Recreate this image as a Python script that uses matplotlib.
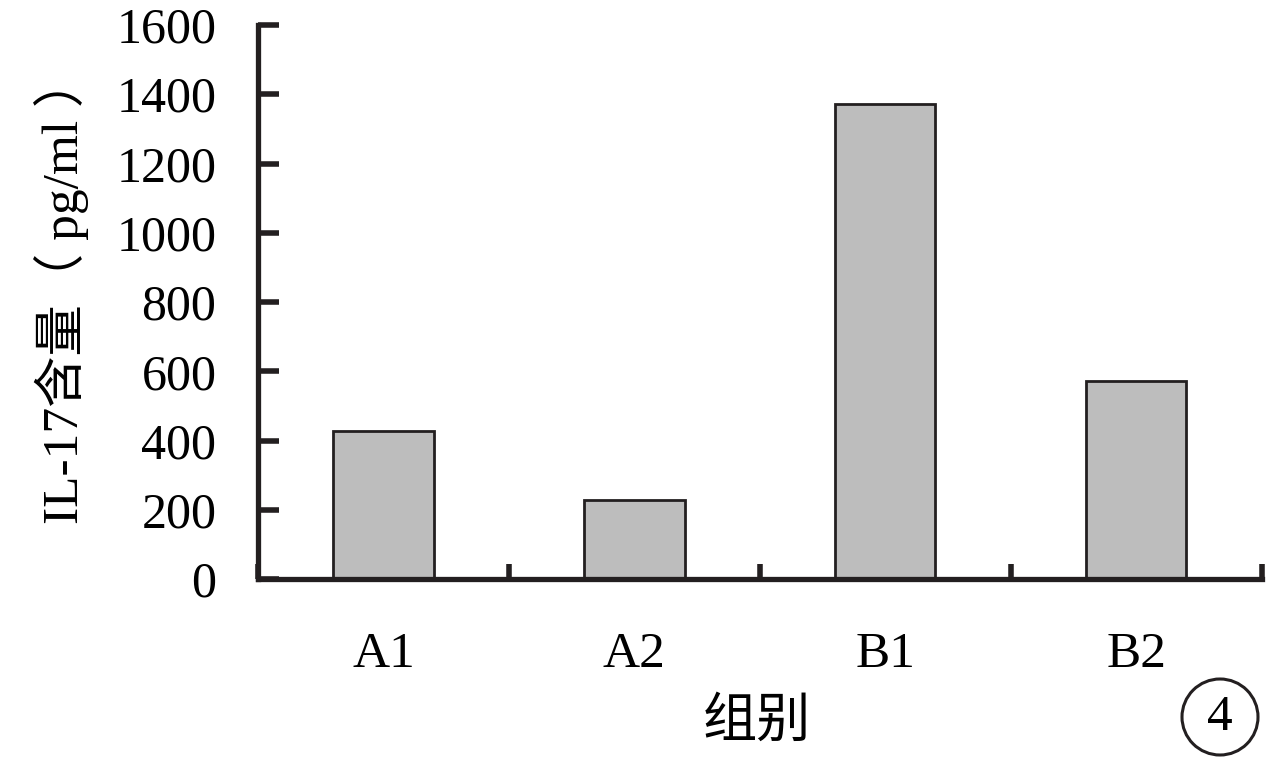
import matplotlib
matplotlib.use("Agg")
import matplotlib.pyplot as plt
from matplotlib.patches import Ellipse

plt.rcParams['font.family'] = ['Liberation Serif', 'Noto Sans CJK SC']

# data
groups = ['A1', 'A2', 'B1', 'B2']
il17 = [428, 228, 1372, 572]
y_ticks = [0, 200, 400, 600, 800, 1000, 1200, 1400, 1600]

fig = plt.figure(figsize=(12.8, 7.57), dpi=100)
ax = fig.add_axes([0.2016, 0.235, 0.784, 0.732])

x = range(len(groups))
ax.bar(x, il17, width=0.40, color='#bdbdbd', edgecolor='#231f20', linewidth=2.0, zorder=2)

ax.set_xlim(-0.5, len(groups) - 0.5)
ax.set_ylim(0, 1600)
ax.set_yticks(y_ticks)
ax.set_yticklabels([str(v) for v in y_ticks], fontsize=36)

# category labels centred, tick marks at category boundaries
ax.set_xticks(list(x))
ax.set_xticklabels(groups, fontsize=37)
ax.tick_params(axis='x', length=0, pad=38)
ax.set_xticks([i + 0.5 for i in range(-1, len(groups))], minor=True)
ax.tick_params(axis='x', which='minor', direction='in', length=11, width=4, color='#231f20')
ax.tick_params(axis='y', direction='in', length=15, width=4, color='#231f20', pad=30)

for side in ['top', 'right']:
    ax.spines[side].set_visible(False)
for side in ['left', 'bottom']:
    ax.spines[side].set_linewidth(3.8)
    ax.spines[side].set_color('#231f20')

fig.text(62 / 1280, 1 - 290 / 757, 'IL-17含量（ pg/ml ）', fontsize=37,
         rotation=90, ha='center', va='center', rotation_mode='anchor')
fig.text(757 / 1280, 1 - 724 / 757, '组别', fontsize=39, ha='center', va='center')

# circled panel number
fig.add_artist(Ellipse((1220 / 1280, 1 - 717 / 757), 76 / 1280, 76 / 757,
                       transform=fig.transFigure, fill=False, lw=2.2, ec='#231f20'))
fig.text(1220 / 1280, 1 - 718 / 757, '4', fontsize=37, ha='center', va='center')

fig.savefig('out.png', dpi=100)
